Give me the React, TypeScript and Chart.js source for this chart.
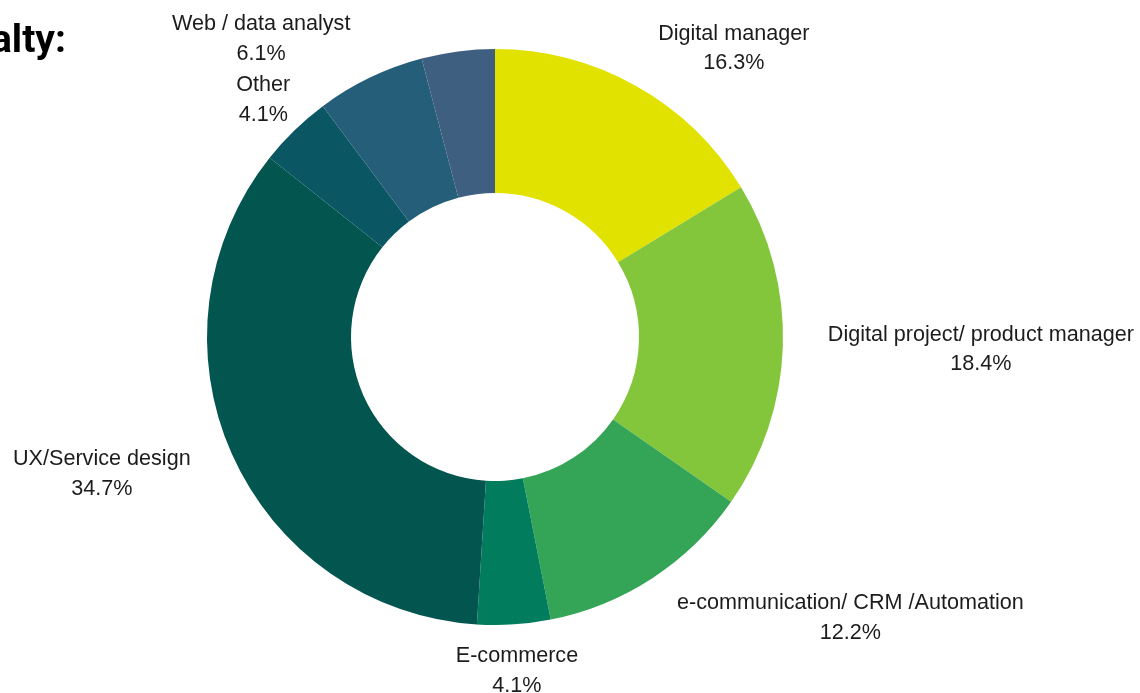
import React, { useEffect, useRef } from "react";
import { Chart, registerables } from "chart.js";

Chart.register(...registerables);

const CATEGORIES = [
  "Digital manager",
  "Digital project/ product manager",
  "e-communication/ CRM /Automation",
  "E-commerce",
  "UX/Service design",
  "Other",
  "Web / data analyst",
  "",
];
const VALUES = [16.3, 18.4, 12.2, 4.1, 34.7, 4.1, 6.1, 4.1];
const COLORS = [
  "#e2e200",
  "#84c63b",
  "#34a556",
  "#017c5c",
  "#02564f",
  "#0a5763",
  "#245e78",
  "#3f5f80",
];
const LABEL_ALIGN = ["left", "left", "left", "center", "right", "center", "right", "center"];

const LABEL_FONT = '21.6px "Liberation Sans", Arial, sans-serif';
const LINE_H = 29.5;
const LABEL_GAP = 45;
const LABEL_DY = 2;

const outsideLabels = {
  id: "outsideLabels",
  afterDatasetsDraw(chart: any) {
    const ctx = chart.ctx as CanvasRenderingContext2D;
    const meta = chart.getDatasetMeta(0);
    const labels = chart.data.labels as string[];
    const data = chart.data.datasets[0].data as number[];
    ctx.save();
    ctx.font = LABEL_FONT;
    ctx.fillStyle = "#1c1c1c";
    ctx.textAlign = "center";
    ctx.textBaseline = "middle";
    meta.data.forEach((arc: any, i: number) => {
      const name = labels[i];
      if (!name) return;
      const p = arc.getProps(["x", "y", "startAngle", "endAngle", "outerRadius"], true);
      const mid = (p.startAngle + p.endAngle) / 2;
      const r = p.outerRadius + LABEL_GAP;
      const ax = p.x + Math.cos(mid) * r;
      const ay = p.y + Math.sin(mid) * r + LABEL_DY;
      const lines = [name, data[i].toFixed(1) + "%"];
      const w = Math.max(...lines.map((l) => ctx.measureText(l).width));
      let cx = ax;
      if (LABEL_ALIGN[i] === "left") cx = ax + w / 2;
      else if (LABEL_ALIGN[i] === "right") cx = ax - w / 2;
      const top = ay - (LINE_H * (lines.length - 1)) / 2;
      lines.forEach((l, k) => ctx.fillText(l, cx, top + k * LINE_H));
    });
    ctx.restore();
  },
};

export default function App() {
  const ref = useRef<HTMLCanvasElement | null>(null);
  useEffect(() => {
    if (!ref.current) return;
    const chart = new Chart(ref.current, {
      type: "doughnut",
      data: {
        labels: CATEGORIES,
        datasets: [
          {
            data: VALUES,
            backgroundColor: COLORS,
            borderWidth: 0,
          },
        ],
      },
      options: {
        responsive: false,
        animation: false,
        cutout: "50%",
        layout: { padding: { top: 49, bottom: 68, left: 207, right: 357 } },
        plugins: {
          legend: { display: false },
          tooltip: { enabled: false },
        },
      },
      plugins: [outsideLabels],
    });
    return () => chart.destroy();
  }, []);
  return (
    <div style={{ position: "fixed", left: 0, top: 0, width: 1140, height: 693, background: "#fff", overflow: "hidden" }}>
      <canvas ref={ref} width={1140} height={693} style={{ position: "absolute", left: 0, top: 0, width: 1140, height: 693 }} />
      <div
        style={{
          position: "absolute",
          right: 1140 - 66,
          top: 20,
          font: '700 39px Roboto, sans-serif',
          lineHeight: "39px",
          whiteSpace: "nowrap",
          color: "#000",
        }}
      >
        Specialty:
      </div>
    </div>
  );
}
